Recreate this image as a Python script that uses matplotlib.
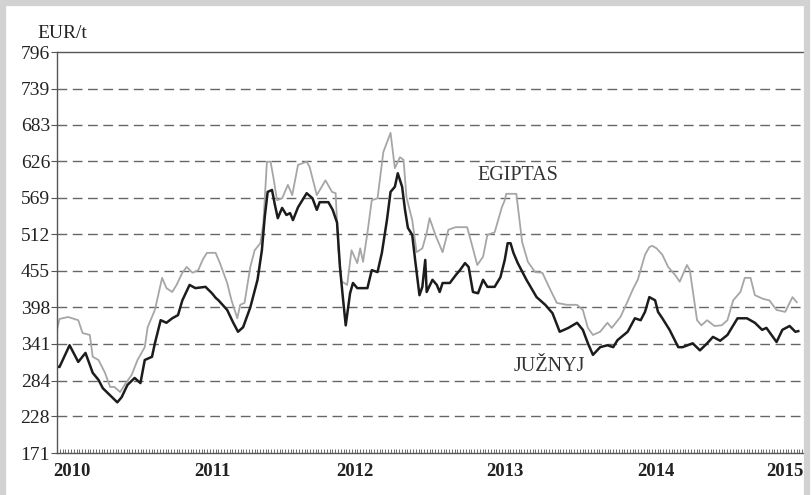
import numpy as np
import matplotlib
matplotlib.use("Agg")
import matplotlib.pyplot as plt
from matplotlib.patches import Rectangle
from matplotlib.ticker import FixedLocator, MultipleLocator

plt.rcParams['font.family'] = ['Liberation Serif', 'DejaVu Serif']

# JUZNYJ (black) - decimal year, EUR/t
juz_t = [2009.90, 2009.92, 2009.99, 2010.05, 2010.10, 2010.15, 2010.19, 2010.22, 2010.27,
         2010.32, 2010.35, 2010.39, 2010.44, 2010.48, 2010.51, 2010.56, 2010.58, 2010.62,
         2010.66, 2010.70, 2010.74, 2010.77, 2010.82, 2010.86, 2010.93, 2010.975, 2011.00,
         2011.02, 2011.08, 2011.12, 2011.155, 2011.19, 2011.24, 2011.29, 2011.32, 2011.34,
         2011.36, 2011.39, 2011.41, 2011.43, 2011.46, 2011.49, 2011.515, 2011.535, 2011.57,
         2011.63, 2011.67, 2011.70, 2011.72, 2011.78, 2011.81, 2011.84, 2011.86, 2011.88,
         2011.90, 2011.93, 2011.95, 2011.98, 2012.05, 2012.08, 2012.12, 2012.15, 2012.185,
         2012.21, 2012.24, 2012.26, 2012.29, 2012.31, 2012.33, 2012.36, 2012.38, 2012.41,
         2012.43, 2012.45, 2012.46, 2012.50, 2012.53, 2012.55, 2012.57, 2012.62, 2012.66,
         2012.69, 2012.725, 2012.75, 2012.78, 2012.815, 2012.85, 2012.88, 2012.93, 2012.97,
         2013.00, 2013.02, 2013.04, 2013.06, 2013.09, 2013.15, 2013.22, 2013.28, 2013.33,
         2013.38, 2013.44, 2013.50, 2013.54, 2013.575, 2013.61, 2013.66, 2013.71, 2013.75,
         2013.78, 2013.85, 2013.90, 2013.94, 2013.97, 2014.00, 2014.04, 2014.06, 2014.09,
         2014.14, 2014.20, 2014.23, 2014.30, 2014.35, 2014.40, 2014.44, 2014.49, 2014.54,
         2014.61, 2014.675, 2014.73, 2014.78, 2014.81, 2014.88, 2014.92, 2014.97, 2015.01,
         2015.03]
juz_v = [306, 305, 339, 313, 327, 296, 285, 272, 261,
         250, 258, 277, 288, 280, 316, 321, 342, 378,
         374, 381, 386, 409, 433, 428, 430, 420, 413,
         409, 394, 375, 360, 367, 398, 441, 487, 539,
         578, 581, 558, 537, 553, 542, 545, 534, 554,
         576, 568, 550, 562, 562, 550, 530, 461, 414,
         370, 420, 436, 428, 428, 456, 453, 483, 534,
         578, 586, 607, 586, 550, 522, 511, 472, 417,
         430, 472, 422, 441, 433, 422, 436, 436, 448,
         456, 467, 461, 422, 420, 441, 430, 430, 445,
         472, 498, 498, 483, 467, 441, 414, 402, 389,
         360, 366, 374, 363, 342, 324, 336, 339, 336,
         347, 360, 381, 378, 391, 414, 409, 391, 381,
         363, 336, 336, 342, 331, 342, 352, 346, 355,
         381, 381, 374, 363, 366, 344, 363, 369, 360,
         361]

# EGIPTAS (grey)
egi_t = [2009.90, 2009.92, 2009.98, 2010.05, 2010.08, 2010.13, 2010.15, 2010.19, 2010.235,
         2010.27, 2010.30, 2010.34, 2010.37, 2010.42, 2010.46, 2010.51, 2010.53, 2010.58,
         2010.63, 2010.66, 2010.70, 2010.73, 2010.77, 2010.80, 2010.84, 2010.88, 2010.91,
         2010.94, 2011.00, 2011.03, 2011.08, 2011.11, 2011.15, 2011.17, 2011.20, 2011.24,
         2011.27, 2011.31, 2011.33, 2011.355, 2011.38, 2011.40, 2011.425, 2011.46, 2011.50,
         2011.53, 2011.57, 2011.63, 2011.65, 2011.70, 2011.76, 2011.805, 2011.83, 2011.85,
         2011.87, 2011.89, 2011.91, 2011.94, 2011.98, 2012.00, 2012.02, 2012.05, 2012.08,
         2012.12, 2012.16, 2012.21, 2012.24, 2012.275, 2012.30, 2012.32, 2012.36, 2012.39,
         2012.43, 2012.46, 2012.48, 2012.52, 2012.57, 2012.61, 2012.66, 2012.71, 2012.74,
         2012.77, 2012.81, 2012.85, 2012.88, 2012.93, 2012.98, 2013.00, 2013.01, 2013.08,
         2013.12, 2013.16, 2013.21, 2013.26, 2013.31, 2013.36, 2013.43, 2013.50, 2013.54,
         2013.575, 2013.61, 2013.66, 2013.71, 2013.74, 2013.80, 2013.845, 2013.89, 2013.92,
         2013.97, 2014.00, 2014.02, 2014.05, 2014.09, 2014.13, 2014.18, 2014.21, 2014.26,
         2014.28, 2014.33, 2014.36, 2014.40, 2014.45, 2014.50, 2014.54, 2014.58, 2014.63,
         2014.66, 2014.70, 2014.73, 2014.79, 2014.83, 2014.88, 2014.94, 2014.99, 2015.02]
egi_v = [360, 380, 383, 378, 358, 355, 321, 316, 296,
         274, 274, 266, 277, 293, 316, 336, 367, 394,
         444, 428, 422, 433, 452, 461, 452, 456, 472,
         483, 483, 467, 436, 409, 381, 402, 405, 461,
         487, 498, 529, 625, 625, 600, 565, 568, 589,
         573, 620, 625, 617, 573, 596, 578, 576, 487,
         438, 436, 433, 487, 467, 490, 469, 514, 565,
         568, 640, 670, 615, 632, 628, 570, 534, 484,
         490, 514, 537, 511, 484, 519, 523, 523, 523,
         498, 464, 477, 511, 515, 554, 565, 575, 575,
         500, 469, 453, 452, 428, 405, 402, 402, 394,
         366, 355, 360, 374, 366, 383, 405, 428, 441,
         480, 492, 494, 490, 480, 461, 448, 438, 464,
         456, 378, 370, 378, 369, 370, 378, 409, 422,
         444, 444, 417, 411, 409, 394, 391, 414, 406]

y_ticks = [171, 228, 284, 341, 398, 455, 512, 569, 626, 683, 739, 796]
years = ['2010', '2011', '2012', '2013', '2014', '2015']
# where the source chart put its year labels (slightly uneven)
year_pos = [2010.007, 2010.975, 2011.964, 2013.001, 2014.046, 2014.935]

fig = plt.figure(figsize=(8.12, 4.95), dpi=100)
fig.patches.append(Rectangle((0.004, -0.05), 0.99, 1.043, transform=fig.transFigure,
                             fill=False, edgecolor='#d2d2d2', linewidth=4.5))

ax = fig.add_axes([0.0702, 0.0848, 0.9248, 0.8101])
ax.plot(egi_t, egi_v, color='#a6a6a6', lw=1.3)
ax.plot(juz_t, juz_v, color='#1c1c1c', lw=1.8)

ax.set_xlim(2009.903, 2015.097)
ax.set_ylim(171, 796)
ax.set_yticks(y_ticks)
ax.set_yticklabels([str(v) for v in y_ticks], fontsize=14, color='#222222')
for v in y_ticks[1:-1]:
    ax.axhline(v, color='#666666', lw=1.0, ls=(0, (7, 4)), zorder=0)

ax.xaxis.set_major_locator(FixedLocator(year_pos))
ax.set_xticklabels(years, fontsize=13.5, fontweight='bold', color='#222222')
ax.xaxis.set_minor_locator(MultipleLocator(1 / 52))
ax.tick_params(axis='x', which='major', length=0, pad=7)
ax.tick_params(axis='x', which='minor', direction='in', length=3, width=0.6, color='#555555')
ax.tick_params(axis='y', length=4, width=0.8, color='#555555', pad=1)

for side in ['left', 'bottom', 'top']:
    ax.spines[side].set_color('#555555')
    ax.spines[side].set_linewidth(1.0)
ax.spines['right'].set_color('#777777')
ax.spines['right'].set_linewidth(1.5)

ax.text(2012.81, 604, 'EGIPTAS', fontsize=14.5, color='#333333', va='center', ha='left')
ax.text(2013.06, 306, 'JUŽNYJ', fontsize=14.5, color='#333333', va='center', ha='left')
fig.text(0.046, 0.933, 'EUR/t', fontsize=14, color='#222222', va='center', ha='left')

fig.savefig('out.png', dpi=100)
